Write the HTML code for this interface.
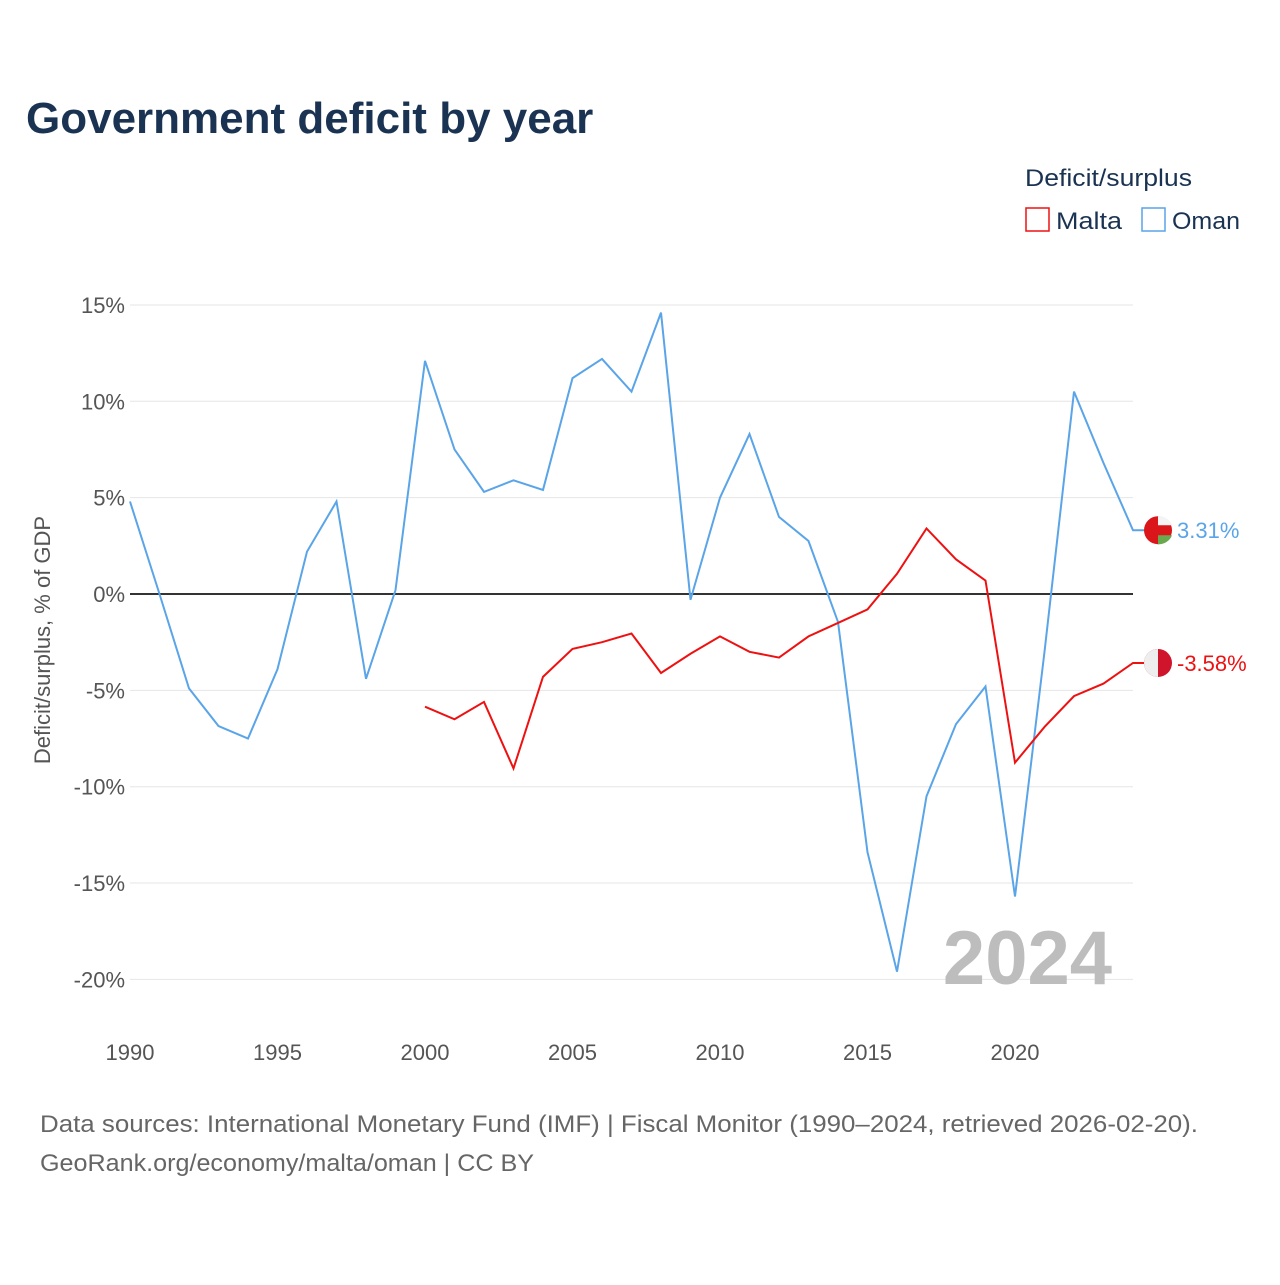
<!DOCTYPE html>
<html><head><meta charset="utf-8"><style>
body{margin:0;background:#fff;font-family:"Liberation Sans",sans-serif}
svg text{font-family:"Liberation Sans",sans-serif}
</style></head><body>
<svg width="1280" height="1280" viewBox="0 0 1280 1280">
<text x="26" y="133" font-size="44" font-weight="bold" fill="#1b3352">Government deficit by year</text>
<text x="1025" y="186" font-size="24" fill="#1b3352" textLength="167" lengthAdjust="spacingAndGlyphs">Deficit/surplus</text>
<g><rect x="1026" y="208" width="23" height="23" fill="none" stroke="#ee1111" stroke-width="1.5"/><text x="1056" y="229" font-size="24" fill="#1b3352" textLength="66" lengthAdjust="spacingAndGlyphs">Malta</text></g>
<g><rect x="1142" y="208" width="23" height="23" fill="none" stroke="#5aa4e8" stroke-width="1.5"/><text x="1172" y="229" font-size="24" fill="#1b3352" textLength="68" lengthAdjust="spacingAndGlyphs">Oman</text></g>
<g id="grid"></g>
<g id="yt"></g><g id="xt"></g>
<text transform="translate(50,640) rotate(-90)" text-anchor="middle" font-size="22" fill="#555">Deficit/surplus, % of GDP</text>
<text x="1112" y="984" text-anchor="end" font-size="76" font-weight="bold" fill="#bdbdbd">2024</text>
<g id="series"></g>
<text x="40" y="1132" font-size="24" fill="#666" textLength="1158" lengthAdjust="spacingAndGlyphs">Data sources: International Monetary Fund (IMF) | Fiscal Monitor (1990–2024, retrieved 2026-02-20).</text>
<text x="40" y="1171" font-size="24" fill="#666" textLength="494" lengthAdjust="spacingAndGlyphs">GeoRank.org/economy/malta/oman | CC BY</text>
</svg>
<script>
const yTicks=[15,10,5,0,-5,-10,-15,-20];
const xTicks=[1990,1995,2000,2005,2010,2015,2020];
const omanYears=[1990,1991,1992,1993,1994,1995,1996,1997,1998,1999,2000,2001,2002,2003,2004,2005,2006,2007,2008,2009,2010,2011,2012,2013,2014,2015,2016,2017,2018,2019,2020,2021,2022,2023,2024];
const omanValues=[4.8,0,-4.9,-6.85,-7.5,-3.9,2.2,4.8,-4.4,0.2,12.1,7.5,5.3,5.9,5.4,11.2,12.2,10.5,14.6,-0.3,5.0,8.3,4.0,2.75,-1.45,-13.4,-19.6,-10.5,-6.75,-4.8,-15.7,-3.0,10.5,6.8,3.31];
const maltaYears=[2000,2001,2002,2003,2004,2005,2006,2007,2008,2009,2010,2011,2012,2013,2014,2015,2016,2017,2018,2019,2020,2021,2022,2023,2024];
const maltaValues=[-5.85,-6.5,-5.6,-9.05,-4.3,-2.85,-2.5,-2.05,-4.1,-3.1,-2.2,-3.0,-3.3,-2.2,-1.5,-0.8,1.05,3.4,1.8,0.7,-8.75,-6.9,-5.3,-4.65,-3.58];
const NS='http://www.w3.org/2000/svg';
const X=yr=>130+(yr-1990)*(1133-130)/34;
const Y=v=>594-v*19.27;
function mk(t,a,p){const e=document.createElementNS(NS,t);for(const k in a)e.setAttribute(k,a[k]);p.appendChild(e);return e;}
const grid=document.getElementById('grid'),yt=document.getElementById('yt'),xt=document.getElementById('xt'),ser=document.getElementById('series');
yTicks.forEach(v=>{
 const l=mk('line',{x1:130,x2:1133,y1:Y(v),y2:Y(v),stroke:v===0?'#333':'#e6e6e6','stroke-width':v===0?2:1},grid);
 
 
 const t=mk('text',{x:125,y:Y(v)+8,'text-anchor':'end','font-size':22,fill:'#555'},yt);
 t.textContent=v+'%';
 
 
});
xTicks.forEach(v=>{
 const t=mk('text',{x:X(v),y:1060,'text-anchor':'middle','font-size':22,fill:'#555'},xt);
 t.textContent=v;
 
 
});
function line(years,vals,color,name,label,flag){
 const d=years.map((y,i)=>(i?'L':'M')+X(y)+','+Y(vals[i])).join('');
 const p=mk('path',{d:d+'L1145,'+Y(vals[vals.length-1]),fill:'none',stroke:color,'stroke-width':2},ser);
 
 
 const cy=Y(vals[vals.length-1]);
 const g=mk('g',{},ser);
 
 
 flag(g,cy);
 const t=mk('text',{x:1177,y:cy+8,'font-size':22,fill:color},ser);
 t.textContent=label;
 
 
}
line(omanYears,omanValues,'#5aa4e8','oman','3.31%',(g,cy)=>{
 mk('circle',{cx:1158,cy:cy,r:14,fill:'#db161b'},g);
 mk('path',{d:`M1158,${cy+5}h14a14,14 0 0 1 -14,9z`,fill:'#6aa84f'},g);
 mk('path',{d:`M1158,${cy-5}h14a14,14 0 0 0 -14,-9z`,fill:'#f4f4f4'},g);
});
line(maltaYears,maltaValues,'#ee1111','malta','-3.58%',(g,cy)=>{
 mk('circle',{cx:1158,cy:cy,r:14,fill:'#cf142b'},g);
 mk('path',{d:`M1158,${cy-14}a14,14 0 0 0 0,28z`,fill:'#eeeeee'},g);
});
</script>
</body></html>
